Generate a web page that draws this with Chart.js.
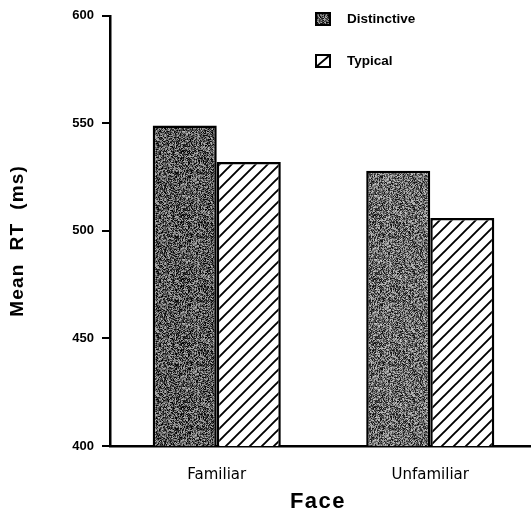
<!DOCTYPE html>
<html>
<head>
<meta charset="utf-8">
<script src="https://cdn.jsdelivr.net/npm/chart.js@4/dist/chart.umd.min.js"></script>
<style>
  html, body { margin: 0; padding: 0; background: #fff; overflow: hidden; }
  canvas { display: block; }
</style>
</head>
<body>
<canvas id="c" width="537" height="514"></canvas>
<script>
// Mean reaction times (ms) by face familiarity and distinctiveness
const categories = ['Familiar', 'Unfamiliar'];
const seriesNames = ['Distinctive', 'Typical'];
const distinctiveRT = [549, 528];
const typicalRT = [532, 506];
const yTicks = [400, 450, 500, 550, 600];
const xTitle = 'Face';
const yTitle = 'Mean  RT  (ms)';

const canvas = document.getElementById('c');
const ctx = canvas.getContext('2d');

// Integer hash used to build a fixed, repeatable stipple texture
function hash(x, y) {
  let h = (x * 374761393 + y * 668265263) | 0;
  h = Math.imul(h ^ (h >>> 13), 1274126177);
  h = h ^ (h >>> 16);
  return (h >>> 0) & 255;
}

// Grey halftone-like fill around a mean grey level
function stipple(mean, spread) {
  const n = 64;
  const cv = document.createElement('canvas');
  cv.width = cv.height = n;
  const g = cv.getContext('2d');
  const img = g.createImageData(n, n);
  for (let y = 0; y < n; y++) {
    for (let x = 0; x < n; x++) {
      const u = hash(x, y) / 255 - 0.5;
      const v = Math.max(0, Math.min(255, Math.round(mean + u * spread)));
      const i = (y * n + x) * 4;
      img.data[i] = img.data[i + 1] = img.data[i + 2] = v;
      img.data[i + 3] = 255;
    }
  }
  g.putImageData(img, 0, 0);
  return ctx.createPattern(cv, 'repeat');
}

// White fill with black "/" diagonal hatching
function hatch(step) {
  const cv = document.createElement('canvas');
  cv.width = cv.height = step;
  const g = cv.getContext('2d');
  g.fillStyle = '#fff';
  g.fillRect(0, 0, step, step);
  g.strokeStyle = '#000';
  g.lineWidth = 1.9;
  g.beginPath();
  g.moveTo(-2, step + 2); g.lineTo(step + 2, -2);
  g.moveTo(-2, 2); g.lineTo(2, -2);
  g.moveTo(step - 2, step + 2); g.lineTo(step + 2, step - 2);
  g.stroke();
  return ctx.createPattern(cv, 'repeat');
}

const distinctiveFills = [stipple(88, 190), stipple(105, 190)];
const typicalFill = hatch(12);

// Legend in the top-right corner and the two axis titles
const decorations = {
  id: 'decorations',
  afterDraw(chart) {
    const c = chart.ctx;
    const area = chart.chartArea;
    const ds = chart.data.datasets;
    c.save();
    c.fillStyle = '#000';

    // y-axis title
    c.save();
    c.font = 'bold 19px "Liberation Sans", Arial, sans-serif';
    c.letterSpacing = '1.2px';
    c.textAlign = 'center';
    c.textBaseline = 'middle';
    c.translate(18, (area.top + area.bottom) / 2 + 10);
    c.rotate(-Math.PI / 2);
    c.fillText(yTitle, 0, 0);
    c.restore();

    // x-axis title
    c.save();
    c.font = 'bold 22px "Liberation Sans", Arial, sans-serif';
    c.letterSpacing = '1.5px';
    c.textAlign = 'center';
    c.textBaseline = 'middle';
    c.fillText(xTitle, 318, 502);
    c.restore();

    // legend
    const rows = [12, 54];
    c.font = 'bold 13.5px "Liberation Sans", Arial, sans-serif';
    c.textAlign = 'left';
    c.textBaseline = 'middle';
    ds.forEach((d, i) => {
      const x = 315, y = rows[i], w = 16, h = 14;
      const fill = Array.isArray(d.backgroundColor) ? d.backgroundColor[0] : d.backgroundColor;
      c.fillStyle = i === 0 ? fill : '#fff';
      c.fillRect(x, y, w, h);
      c.strokeStyle = '#000';
      c.lineWidth = 2;
      if (i === 1) {
        c.beginPath();
        c.moveTo(x + 1, y + h - 1);
        c.lineTo(x + w - 1, y + 1);
        c.lineWidth = 1.8;
        c.stroke();
        c.lineWidth = 2;
      }
      c.strokeRect(x + 1, y + 1, w - 2, h - 2);
      c.fillStyle = '#000';
      c.fillText(d.label, 347, y + h / 2);
    });
    c.restore();
  }
};

new Chart(ctx, {
  type: 'bar',
  data: {
    labels: categories,
    datasets: [
      {
        label: seriesNames[0],
        data: distinctiveRT,
        backgroundColor: distinctiveFills,
        borderColor: '#000',
        borderWidth: 2.5,
        borderSkipped: false,
        categoryPercentage: 0.6,
        barPercentage: 1.0
      },
      {
        label: seriesNames[1],
        data: typicalRT,
        backgroundColor: typicalFill,
        borderColor: '#000',
        borderWidth: 2.5,
        borderSkipped: false,
        categoryPercentage: 0.6,
        barPercentage: 1.0
      }
    ]
  },
  options: {
    responsive: false,
    animation: false,
    devicePixelRatio: 1,
    layout: { padding: { top: 13, right: 0, bottom: 0, left: 0 } },
    plugins: {
      legend: { display: false },
      tooltip: { enabled: false }
    },
    scales: {
      x: {
        grid: { display: false },
        border: { display: true, color: '#000', width: 2.5 },
        ticks: {
          color: '#000',
          padding: 12,
          font: { family: '"DejaVu Sans", sans-serif', size: 15 }
        },
        afterFit(s) { s.height = 68; }
      },
      y: {
        min: yTicks[0],
        max: yTicks[yTicks.length - 1],
        afterBuildTicks(s) { s.ticks = yTicks.map(v => ({ value: v })); },
        grid: {
          drawOnChartArea: false,
          drawTicks: true,
          tickLength: 8,
          color: '#000',
          lineWidth: 2
        },
        border: { display: true, color: '#000', width: 2.5 },
        ticks: {
          color: '#000',
          padding: 8,
          font: { family: '"Liberation Sans", Arial, sans-serif', size: 13, weight: 'bold' }
        },
        afterFit(s) { s.width = 110; }
      }
    }
  },
  plugins: [decorations]
});
</script>
</body>
</html>
